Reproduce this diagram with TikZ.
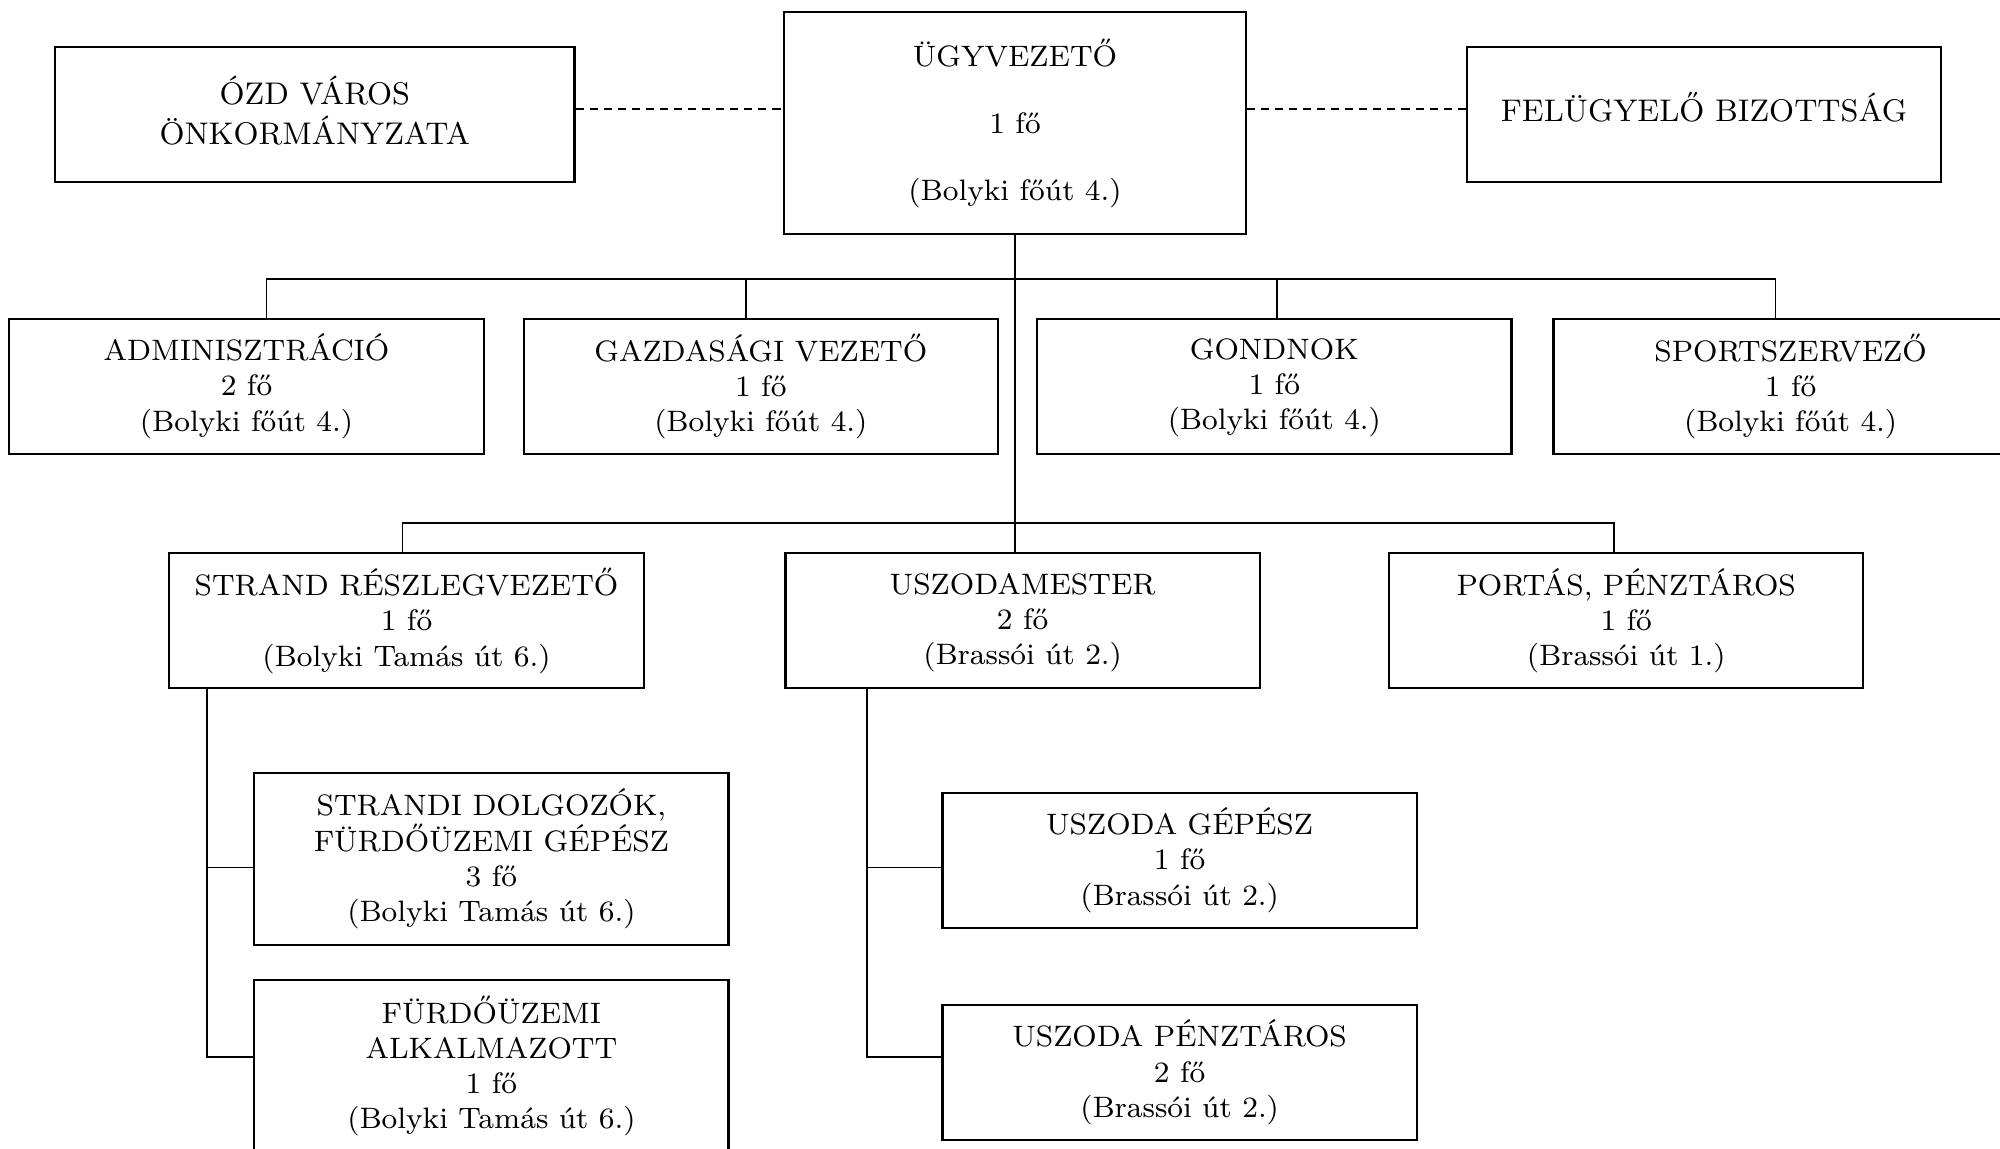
\documentclass[tikz,border=0pt]{standalone}

\begin{document}
\begin{tikzpicture}[x=0.01cm,y=-0.01cm,
  unit/.style={draw,line width=0.6pt,minimum width=4.74cm,minimum height=1.35cm,
    inner sep=0pt,align=center,font=\fontsize{8.4}{10}\selectfont},
  top unit/.style={unit,font=\fontsize{8.9}{11.4}\selectfont},
  link/.style={line width=0.5pt},
  rel/.style={line width=0.6pt,dash pattern=on 2.3pt off 1.7pt}]
   \useasboundingbox (0,0) rectangle (2000,1149);
   \clip (0,0) rectangle (2000,1149);
   % top level
   \node[top unit,minimum width=5.19cm,text depth=2.2pt] (ozd) at (314.8,114.2) {ÓZD VÁROS\\ÖNKORMÁNYZATA};
   \node[unit,minimum width=4.62cm,minimum height=2.22cm] (ugyv) at (1015,123.2)
     {ÜGYVEZETŐ\\[9pt] 1 fő\\[9pt] (Bolyki főút 4.)};
   \node[top unit,text depth=4.4pt] (felugy) at (1704,114.2) {FELÜGYELŐ BIZOTTSÁG};
   % first row
   \node[unit] (adm)   at (246.5,386.2)  {ADMINISZTRÁCIÓ\\2 fő\\(Bolyki főút 4.)};
   \node[unit] (gazd)  at (760.8,386.2)  {GAZDASÁGI VEZETŐ\\1 fő\\(Bolyki főút 4.)};
   \node[unit] (gond)  at (1274.3,386.2) {GONDNOK\strut\\1 fő\\(Bolyki főút 4.)};
   \node[unit] (sport) at (1790.6,386.2) {SPORTSZERVEZŐ\\1 fő\\(Bolyki főút 4.)};
   % second row
   \node[unit] (strand) at (406.5,620.8)  {STRAND RÉSZLEGVEZETŐ\\1 fő\\(Bolyki Tamás út 6.)};
   \node[unit] (uszm)   at (1022.6,620.8) {USZODAMESTER\strut\\2 fő\\(Brassói út 2.)};
   \node[unit] (portas) at (1626.2,620.8) {PORTÁS, PÉNZTÁROS\\1 fő\\(Brassói út 1.)};
   % third level
   \node[unit,minimum height=1.72cm] (strandi) at (491.4,858.9)
     {STRANDI DOLGOZÓK,\\FÜRDŐÜZEMI GÉPÉSZ\\3 fő\\(Bolyki Tamás út 6.)};
   \node[unit,minimum height=1.72cm] (furdo) at (491.4,1066)
     {FÜRDŐÜZEMI\\ALKALMAZOTT\\1 fő\\(Bolyki Tamás út 6.)};
   \node[unit] (gepesz) at (1179.6,860.1)  {USZODA GÉPÉSZ\\1 fő\\(Brassói út 2.)};
   \node[unit] (penzt)  at (1179.6,1072.4) {USZODA PÉNZTÁROS\\2 fő\\(Brassói út 2.)};
   % dashed relations
   \coordinate (d1) at ([yshift=.55mm]ozd.east);
   \coordinate (d2) at ([yshift=.55mm]felugy.west);
   \draw[rel] (d1) -- (d1 -| ugyv.west);
   \draw[rel] (d2) -- (d2 -| ugyv.east);
   % buses
   \coordinate (bus1) at (1015,278.7);
   \coordinate (bus2) at (1015,523.1);
   \draw[link] (ugyv.south) -- (ugyv.south |- uszm.north);
   \draw[link] ([xshift=2mm]adm.north) |- (bus1) -| ([xshift=-1.5mm]sport.north);
   \draw[link] ([xshift=-1.5mm]gazd.north) |- (bus1);
   \draw[link] ([xshift=.3mm]gond.north) |- (bus1);
   \draw[link] ([xshift=-.4mm]strand.north) |- (bus2) -| ([xshift=-1.2mm]portas.north);
   % sub units
   \coordinate (sv) at ([xshift=3.83mm]strand.south west);
   \coordinate (uv) at ([xshift=8.29mm]uszm.south west);
   \draw[link] (sv) |- ([yshift=-.85mm]strandi.west);
   \draw[link] (sv) |- ([yshift=.92mm]furdo.west);
   \draw[link] (uv) |- ([yshift=-.73mm]gepesz.west);
   \draw[link] (uv) |- ([yshift=1.56mm]penzt.west);
\end{tikzpicture}
\end{document}
